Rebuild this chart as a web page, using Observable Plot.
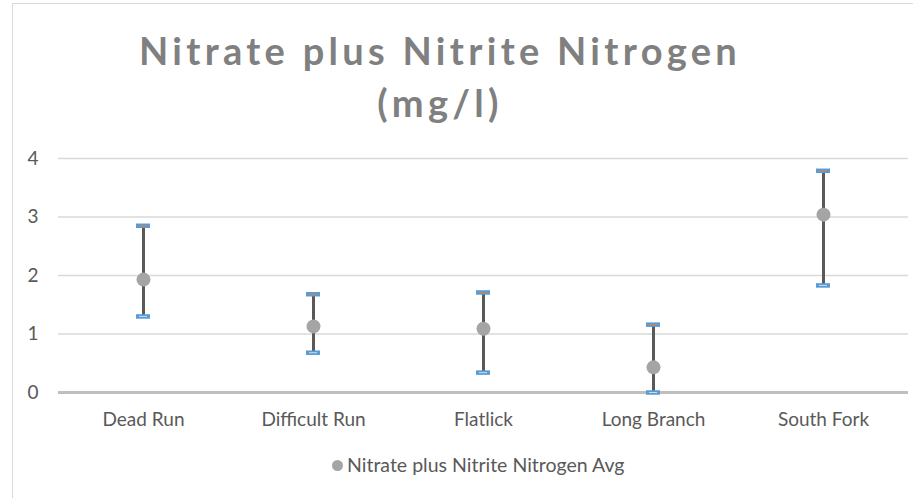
<!DOCTYPE html>
<html>
<head>
<meta charset="utf-8">
<script src="https://cdn.jsdelivr.net/npm/d3@7"></script>
<script src="https://cdn.jsdelivr.net/npm/@observablehq/plot@0.6"></script>
<style>
  html, body { margin: 0; padding: 0; background: #fff; }
  #frame { position: absolute; left: 12px; top: 3px; width: 920px; height: 520px;
           border-left: 1.5px solid #d9d9d9; border-top: 1.5px solid #d9d9d9; box-sizing: border-box; }
  #title { position: absolute; left: 0; width: 880px; top: 24px; text-align: center;
           font-family: Lato, sans-serif; font-weight: bold; font-size: 38px; line-height: 52px;
           letter-spacing: 4.3px; color: #808080; }
  #chart { position: absolute; left: 0; top: 140px; }
  #chart svg text { font-size: 19px; fill: #595959; }
  #legend { position: absolute; left: 332px; top: 453px; font-family: Lato, sans-serif;
            font-size: 19.5px; color: #595959; white-space: nowrap; }
  #legend .dot { display: inline-block; width: 11px; height: 11px; border-radius: 50%;
                 background: #a5a5a5; margin-right: 4px; vertical-align: 1px; }
</style>
</head>
<body>
<div id="frame"></div>
<div id="title">Nitrate plus Nitrite Nitrogen<br>(mg/l)</div>
<div id="chart"></div>
<div id="legend"><span class="dot"></span>Nitrate plus Nitrite Nitrogen Avg</div>
<script>
const sites = ["Dead Run", "Difficult Run", "Flatlick", "Long Branch", "South Fork"];
const avgValues = [1.93, 1.13, 1.09, 0.43, 3.04];
const highValues = [2.85, 1.68, 1.71, 1.16, 3.79];
const lowValues = [1.30, 0.68, 0.34, 0.00, 1.83];
const yTicks = [0, 1, 2, 3, 4];

const data = sites.map((s, i) => ({site: s, avg: avgValues[i], high: highValues[i], low: lowValues[i]}));

const capInset = 78;
const chart = Plot.plot({
  width: 913,
  height: 300,
  marginLeft: 58,
  marginRight: 5,
  marginTop: 18,
  marginBottom: 48,
  style: {fontFamily: "Lato, sans-serif", color: "#595959", background: "transparent"},
  x: {domain: sites, label: null, padding: 0},
  y: {domain: [0, 4], ticks: yTicks, label: null, tickFormat: d3.format("d")},
  marks: [
    Plot.gridY(yTicks.filter(d => d > 0), {stroke: "#d9d9d9", strokeOpacity: 1, strokeWidth: 1.5}),
    Plot.ruleY([0], {stroke: "#bfbfbf", strokeWidth: 3}),
    Plot.axisY({ticks: yTicks, tickFormat: d3.format("d"), tickSize: 0, tickPadding: 20}),
    Plot.axisX({tickSize: 0, tickPadding: 20}),
    Plot.ruleX(data, {x: "site", y1: "low", y2: "high", stroke: "#595959", strokeWidth: 3}),
    Plot.tickY(data, {x: "site", y: "high", stroke: "#5b9bd5", strokeWidth: 4.5, insetLeft: capInset, insetRight: capInset}),
    Plot.tickY(data, {x: "site", y: "high", stroke: "#ed7d31", strokeWidth: 1, insetLeft: capInset + 3, insetRight: capInset + 3}),
    Plot.tickY(data, {x: "site", y: "low", stroke: "#5b9bd5", strokeWidth: 4.5, insetLeft: capInset, insetRight: capInset}),
    Plot.tickY(data, {x: "site", y: "low", stroke: "#c9dcf0", strokeWidth: 1, insetLeft: capInset + 3, insetRight: capInset + 3}),
    Plot.dot(data, {x: "site", y: "avg", r: 7, fill: "#a5a5a5", stroke: "none"})
  ]
});
document.getElementById("chart").appendChild(chart);
</script>
</body>
</html>
